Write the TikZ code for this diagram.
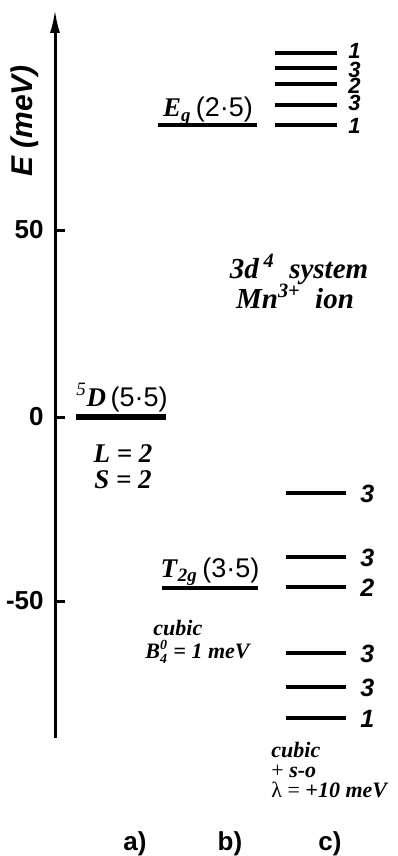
\documentclass[tikz,border=0pt]{standalone}
\usepackage{fontspec}
\setmainfont{Liberation Serif}
\setsansfont{Liberation Sans}
\usetikzlibrary{arrows.meta}
\newcommand{\bi}[1]{\textbf{\textit{#1}}}
\newcommand{\mult}[1]{{\sffamily\mdseries\upshape(#1)}}
\newcommand{\sm}[1]{\hbox{\fontsize{7}{7}\selectfont\bfseries\itshape #1}}

\begin{document}
\begin{tikzpicture}[
      x=0.5pt, y=-0.5pt,
      lvl/.style={line width=2pt},
      axis/.style={line width=1.5pt, -{Latex[length=12pt,width=5pt]}},
      tick/.style={font=\sffamily\bfseries\fontsize{13}{13}\selectfont, anchor=east, inner sep=0pt},
      deg/.style={font=\sffamily\bfseries\itshape\fontsize{12.5}{12.5}\selectfont, anchor=west, inner sep=0pt},
      term/.style={font=\fontsize{13.5}{14}\selectfont, anchor=base, inner sep=0pt},
      note/.style={font=\fontsize{11}{11}\selectfont, anchor=base west, inner sep=0pt},
      panel/.style={font=\sffamily\bfseries\fontsize{13}{13}\selectfont, inner sep=0pt}
    ]
      \useasboundingbox (0,0) rectangle (397,856);
      % energy axis
      \coordinate (bot) at (55,738);
      \coordinate (top) at (55,9);
      \draw[axis] (bot) -- (top);
      \node[font=\sffamily\bfseries\itshape\fontsize{15}{15}\selectfont, rotate=90] (elab) at (25,121) {E (meV)};
      \foreach \v/\y in {50/230,0/417,-50/601} {
        \draw[line width=1.5pt] (55,\y) -- (65,\y);
        \node[tick] (t\v) at (44,\y) {\v};
      }
      % a) free ion
      \draw[line width=3pt] (76,417) -- (166,417);
      \node[term] (d) at (122,406) {\textsuperscript{\textit{5}}\bi{D}\,\mult{5\textperiodcentered 5}};
      \node[term] (l) at (123,462) {\bi{L = 2}};
      \node[term] (s) at (123,488) {\bi{S = 2}};
      % b) cubic field
      \draw[lvl] (158,125) -- (257,125);
      \node[term] (eg) at (208,117) {\bi{E}\textsubscript{\bi{g}}\,\mult{2\textperiodcentered 5}};
      \draw[lvl] (162,588) -- (258,588);
      \node[term] (tg) at (210,577) {\bi{T}\textsubscript{\bi{2g}}\,\mult{3\textperiodcentered 5}};
      \node[note] (cb) at (153,635) {\bi{cubic}};
      \node[note] (b4) at (145,658) {$\hbox{\bi{B}}^{\sm{0}}_{\sm{4}}$ \textbf{=} \bi{1 meV}};
      % c) cubic + spin-orbit
      \foreach \y/\t/\g [count=\i] in {53/51/1,68/70/3,84/86/2,105/103/3,125/126/1} {
        \draw[lvl] (275,\y) -- (337,\y);
        \node[deg, font=\sffamily\bfseries\itshape\fontsize{11}{11}\selectfont] (u\i) at (348,\t) {\g};
      }
      \foreach \y/\g [count=\i] in {493/3,557/3,587/2,653/3,687/3,718/1} {
        \draw[lvl] (286,\y) -- (346,\y);
        \node[deg] (w\i) at (360,\y+1) {\g};
      }
      \node[note] (c1) at (271,757) {\bi{cubic}};
      \node[note] (c2) at (271,777) {+ \bi{s-o}};
      \node[note] (c3) at (271,797) {λ = \bi{+10 meV}};
      \node[font=\fontsize{14.5}{15}\selectfont, anchor=base] (sys) at (299,278) {\bi{3d\,\textsuperscript{4}}\ \ \bi{system}};
      \node[font=\fontsize{14.5}{15}\selectfont, anchor=base] (ion) at (295,308) {\bi{Mn\textsuperscript{3+}}\ \ \bi{ion}};
      % panels
      \node[panel] (pa) at (135,844) {a)};
      \node[panel] (pb) at (230,844) {b)};
      \node[panel] (pc) at (330,844) {c)};
    \end{tikzpicture}
\end{document}
